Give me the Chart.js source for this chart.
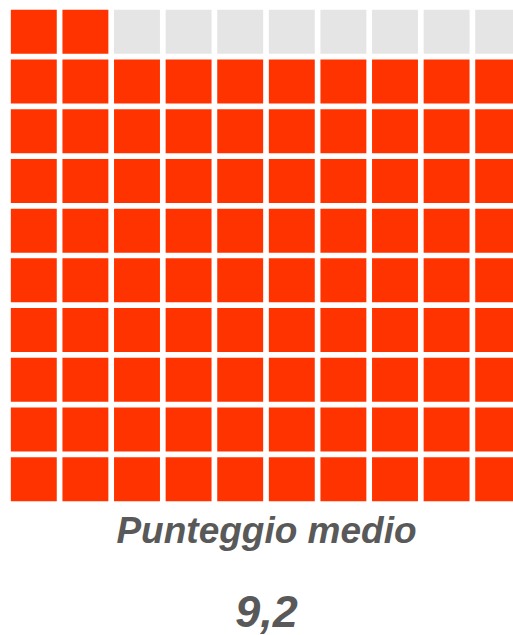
<!DOCTYPE html>
<html>
<head>
<meta charset="utf-8">
<script src="https://cdn.jsdelivr.net/npm/chart.js@4/dist/chart.umd.min.js"></script>
<style>
  body { margin: 0; overflow: hidden; background: #fff; }
  #wrap { position: absolute; left: 0; top: 0; width: 536px; height: 505px; }
  .label {
    position: absolute; left: 0; width: 533px; text-align: center;
    font-family: "Liberation Sans", Arial, sans-serif; font-weight: bold; font-style: italic;
    color: #595959;
  }
  #title { top: 512px; font-size: 37px; line-height: 37px; }
  #score { top: 589px; font-size: 45px; line-height: 45px; }
</style>
</head>
<body>
<div id="wrap"><canvas id="waffle"></canvas></div>
<div class="label" id="title">Punteggio medio</div>
<div class="label" id="score">9,2</div>

<script>
// ================== Data ==================
const columns = ["1", "2", "3", "4", "5", "6", "7", "8", "9", "10"];
const rows = [0, 1, 2, 3, 4, 5, 6, 7, 8, 9]; // 0 = riga in basso
const punteggio = [9.2];      // punteggio medio su 10
const filledCells = [92];     // celle colorate su 100

const FILL = "#ff3300";
const EMPTY = "#e5e5e5";
const INSET = 0.057; // spazio verticale tra le righe (in unità di riga)

// ================== Datasets (una riga = un dataset) ==================
const datasets = rows.map((r) => ({
  label: "riga " + (r + 1),
  data: columns.map(() => [r + INSET, r + 1 - INSET]),
  backgroundColor: columns.map((c, i) => (r * columns.length + i < filledCells[0] ? FILL : EMPTY)),
  borderWidth: 0,
  grouped: false,
  barPercentage: 0.89,
  categoryPercentage: 1,
}));

new Chart(document.getElementById("waffle"), {
  type: "bar",
  data: { labels: columns, datasets },
  options: {
    responsive: true,
    maintainAspectRatio: false,
    animation: false,
    layout: { padding: { left: 8, top: 7, right: 12, bottom: 1 } },
    plugins: { legend: { display: false }, tooltip: { enabled: false } },
    scales: {
      x: { display: false },
      y: { display: false, min: 0, max: rows.length },
    },
  },
});
</script>
</body>
</html>
